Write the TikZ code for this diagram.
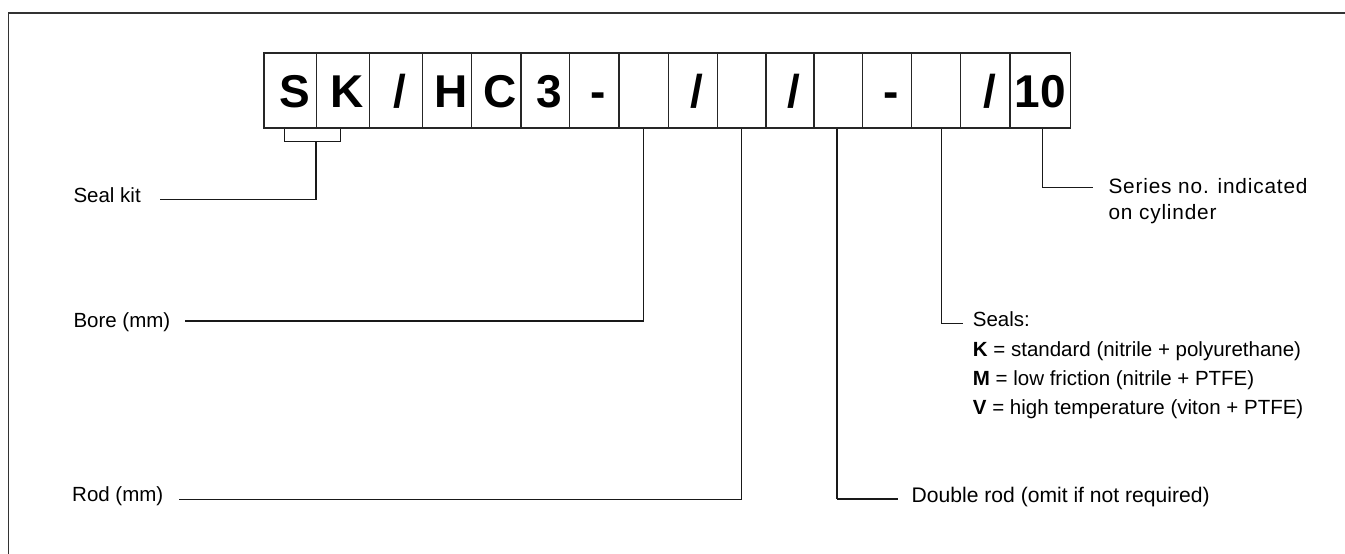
\documentclass[tikz,border=0pt]{standalone}
\usepackage{fontspec}
\setmainfont{Liberation Sans}
\begin{document}
\begin{tikzpicture}[x=1pt,y=-1pt,
  cell/.style={draw=black!85, line width=1.2pt, minimum height=75pt, inner sep=0pt,
    text height=33pt, text depth=0pt, font=\fontsize{46}{46}\selectfont\bfseries},
  conn/.style={draw=black!90, line width=1.3pt},
  lbl/.style={anchor=base west, inner sep=0pt, font=\fontsize{20.5}{24}\selectfont},
  frame/.style={draw=black!80, line width=1.6pt}]
\useasboundingbox (0,0) rectangle (1345,554);
\draw[frame] (1345,13) -- (8.5,13) -- (8.5,554);
% code boxes
\foreach \n/\l/\r/\t/\s in {1/264/316.7/S/8, 2/316.7/369.3/K/8, 3/369.3/422.3/{/}/8,
  4/422.3/471.7/H/8, 5/471.7/521/C/8, 6/521/569.7/3/8, 7/569.7/619/-/8,
  8/619/668.3/{}/0, 9/668.3/717.3/{/}/8, 10/717.3/766/{}/0, 11/766/814/{/}/8,
  12/814/862.7/{}/0, 13/862.7/911.7/-/8, 14/911.7/960.7/{}/0, 15/960.7/1010/{/}/9,
  16/1010/1070.3/10/0}{
  \pgfmathsetmacro\w{\r-\l}
  \pgfmathsetmacro\c{(\l+\r)/2}
  \node[cell, minimum width=\w pt] (b\n) at (\c,90.5) {\hspace*{\s pt}\t};
}
% end points of connectors
\coordinate (sealEnd) at (160,199.3);
\coordinate (boreEnd) at (185,321);
\coordinate (rodEnd) at (179.3,499.3);
\coordinate (dblEnd) at (898.3,499.3);
\coordinate (sealsEnd) at (963,323.3);
\coordinate (seriesEnd) at (1092.7,187.3);
% seal kit bracket
\coordinate (brL) at ([xshift=-6pt]b1.south);
\coordinate (brR) at ([xshift=-2.3pt]b2.south);
\coordinate (brM) at (316,141.7);
\draw[conn] (brL) -- (brL |- brM) -- (brR |- brM) -- (brR);
\draw[conn] (brM) |- (sealEnd);
% other connectors
\draw[conn] (b8.south) |- (boreEnd);
\draw[conn] (b10.south) |- (rodEnd);
\draw[conn] ([xshift=-1.3pt]b12.south) -- ([xshift=-1.3pt]b12.south |- dblEnd);
\draw[conn, line width=2.2pt] ([xshift=-1.3pt]b12.south |- dblEnd) -- (dblEnd);
\draw[conn] ([xshift=5.5pt]b14.south) |- (sealsEnd);
\draw[conn] ([xshift=2.1pt]b16.south) |- (seriesEnd);
% labels
\node[lbl] (sealkit) at (73.3,202.7) {Seal kit};
\node[lbl] (bore) at (73.3,327.7) {Bore (mm)};
\node[lbl] (rod) at (72,501.7) {Rod (mm)};
\node[lbl, font=\fontsize{21.1}{24}\selectfont] (dbl) at (911.5,502.3) {Double rod (omit if not required)};
\node[lbl] (sealsT) at (972.7,326.7) {Seals:};
\node[lbl] (sealsK) at (972.7,356) {\textbf{K} = standard (nitrile + polyurethane)};
\node[lbl] (sealsM) at (972.7,385.3) {\textbf{M} = low friction (nitrile + PTFE)};
\node[lbl] (sealsV) at (972.7,414.6) {\textbf{V} = high temperature (viton + PTFE)};
\node[lbl, font=\fontsize{20.8}{24}\selectfont\addfontfeature{LetterSpace=4}] (series1) at (1108.3,193.3) {Series no. indicated};
\node[lbl, font=\fontsize{20.8}{24}\selectfont\addfontfeature{LetterSpace=4}] (series2) at (1108.3,219.5) {on cylinder};
\end{tikzpicture}
\end{document}
